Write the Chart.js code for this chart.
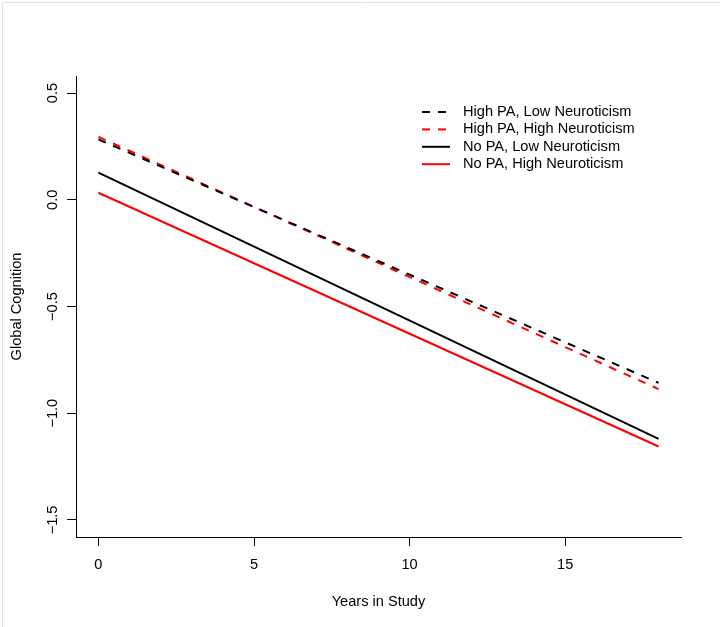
<!DOCTYPE html>
<html>
<head>
<meta charset="utf-8">
<script src="https://cdn.jsdelivr.net/npm/chart.js@4"></script>
<style>
  html, body { margin: 0; padding: 0; background: #ffffff; }
  #wrap { width: 720px; height: 627px; position: relative; }
</style>
</head>
<body>
<div id="wrap"><canvas id="c" width="720" height="627"></canvas></div>
<script>
// ---- data ----
const years = [0, 18];
const highPALowN = [0.283, -0.858];
const highPAHighN = [0.295, -0.887];
const noPALowN = [0.127, -1.120];
const noPAHighN = [0.033, -1.156];
const seriesLabels = [
  "High PA, Low Neuroticism",
  "High PA, High Neuroticism",
  "No PA, Low Neuroticism",
  "No PA, High Neuroticism"
];
const xTicks = [0, 5, 10, 15];
const yTicks = [0.5, 0.0, -0.5, -1.0, -1.5];
const xTitle = "Years in Study";
const yTitle = "Global Cognition";

const FONT = "'Liberation Sans', Arial, sans-serif";
const FS = 14.6;
const toPts = (ys) => years.map((x, i) => ({ x: x, y: ys[i] }));
const fmtY = (v) => (v < 0 ? "\u2212" : "") + Math.abs(v).toFixed(1);

const styles = [
  { color: "#000000", dash: [8, 8] },
  { color: "#ff0000", dash: [8, 8] },
  { color: "#000000", dash: [] },
  { color: "#ff0000", dash: [] }
];
const allSeries = [highPALowN, highPAHighN, noPALowN, noPAHighN];

const datasets = allSeries.map((s, i) => ({
  label: seriesLabels[i],
  data: toPts(s),
  borderColor: styles[i].color,
  backgroundColor: styles[i].color,
  borderDash: styles[i].dash,
  borderWidth: 2,
  pointRadius: 0,
  fill: false,
  tension: 0,
  borderCapStyle: "butt"
}));

const extrasPlugin = {
  id: "extras",
  beforeDraw(chart) {
    const ctx = chart.ctx;
    ctx.save();
    ctx.fillStyle = "#ffffff";
    ctx.fillRect(0, 0, chart.width, chart.height);
    ctx.strokeStyle = "#e2e2e2";
    ctx.lineWidth = 1;
    ctx.beginPath();
    ctx.moveTo(2.5, 2.5); ctx.lineTo(2.5, chart.height);
    ctx.moveTo(2.5, 2.5); ctx.lineTo(chart.width, 2.5);
    ctx.stroke();
    ctx.restore();
  },
  afterDraw(chart) {
    const ctx = chart.ctx;
    const ys = chart.scales.y;
    // rotated y tick labels
    ctx.save();
    ctx.fillStyle = "#000000";
    ctx.font = FS + "px " + FONT;
    ctx.textAlign = "center";
    ctx.textBaseline = "middle";
    yTicks.forEach(v => {
      const py = ys.getPixelForValue(v);
      ctx.save();
      ctx.translate(52.5, py);
      ctx.rotate(-Math.PI / 2);
      ctx.fillText(fmtY(v), 0, 0);
      ctx.restore();
    });
    ctx.restore();
    // legend
    ctx.save();
    ctx.font = FS + "px " + FONT;
    ctx.textAlign = "left";
    ctx.textBaseline = "middle";
    chart.data.datasets.forEach((ds, i) => {
      const yy = 112 + i * 17.4;
      ctx.strokeStyle = ds.borderColor;
      ctx.lineWidth = 2;
      ctx.setLineDash(ds.borderDash || []);
      ctx.beginPath();
      ctx.moveTo(422, yy);
      ctx.lineTo(450, yy);
      ctx.stroke();
      ctx.setLineDash([]);
      ctx.fillStyle = "#000000";
      ctx.fillText(ds.label, 463, yy);
    });
    ctx.restore();
  }
};

new Chart(document.getElementById("c"), {
  type: "line",
  data: { datasets: datasets },
  options: {
    responsive: false,
    animation: false,
    devicePixelRatio: 1,
    layout: { padding: { left: 0, top: 76, right: 39, bottom: 0 } },
    plugins: { legend: { display: false }, tooltip: { enabled: false } },
    scales: {
      x: {
        type: "linear",
        min: -0.72,
        max: 18.72,
        afterBuildTicks: (scale) => { scale.ticks = xTicks.map(v => ({ value: v })); },
        afterFit: (scale) => { scale.height = 90; },
        grid: { display: true, drawOnChartArea: false, drawTicks: true, tickLength: 9, color: "#000000", lineWidth: 1 },
        border: { display: true, color: "#000000", width: 1 },
        ticks: { color: "#000000", font: { family: FONT, size: FS }, padding: 10, maxRotation: 0, autoSkip: false,
                 callback: (v) => String(v) },
        title: { display: true, text: xTitle, color: "#000000", font: { family: FONT, size: FS }, padding: { top: 0, bottom: 16.4 } }
      },
      y: {
        type: "linear",
        min: -1.58,
        max: 0.58,
        afterBuildTicks: (scale) => { scale.ticks = yTicks.map(v => ({ value: v })); },
        afterFit: (scale) => { scale.width = 76; },
        grid: { display: true, drawOnChartArea: false, drawTicks: true, tickLength: 9, color: "#000000", lineWidth: 1 },
        border: { display: true, color: "#000000", width: 1 },
        ticks: { display: false },
        title: { display: true, text: yTitle, color: "#000000", font: { family: FONT, size: FS }, padding: { top: 8.2, bottom: 0 } }
      }
    }
  },
  plugins: [extrasPlugin]
});
</script>
</body>
</html>
